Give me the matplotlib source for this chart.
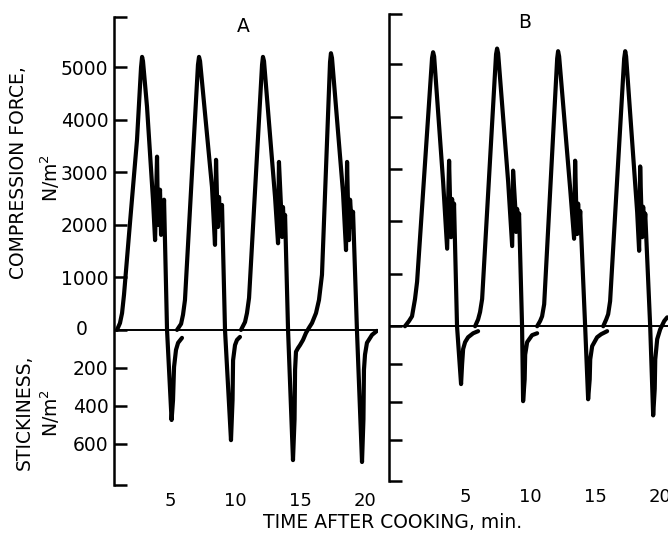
import numpy as np
import matplotlib.pyplot as plt
from matplotlib import transforms

nan = np.nan

# Panel A trace: time (min) and force (N/m2); negative values = stickiness.
# nan marks where the recorder pen was lifted between cycles.
a_time = [0.92, 1.15, 1.31, 1.46, 1.92, 2.46, 2.77, 2.85, 2.92, 3.23, 3.69, 3.85, 4.00,
          4.08, 4.23, 4.31, 4.38, 4.46, 4.54, 4.77, 5.12, 5.23, 5.31, 5.46, 5.62, 5.92, nan,
          5.54, 5.85, 6.00, 6.15, 7.15, 7.23, 7.31, 8.23, 8.46, 8.54, 8.62, 8.69, 8.77, 8.85,
          9.00, 9.23, 9.69, 9.81, 9.85, 10.00, 10.15, 10.38, nan,
          10.46, 10.77, 10.92, 11.08, 12.08, 12.15, 12.23, 13.08, 13.31, 13.38, 13.54, 13.62,
          13.69, 13.77, 13.85, 14.08, 14.46, 14.58, 14.62, 14.69, 14.85, 15.00, 15.23, 15.46,
          15.69, 15.92, 16.23, 16.46, 16.69, 17.31, 17.38, 17.46, 18.31, 18.54, 18.62, 18.69,
          18.77, 18.85, 19.00, 19.08, 19.38, 19.77, 19.88, 19.92, 20.00, 20.15, 20.54, 20.92]
a_force = [0, 130, 320, 670, 2040, 3620, 5000, 5200, 5120, 4250, 2480, 1710, 3300,
           2000, 2670, 1810, 2380, 1900, 2480, 0, -474, -370, -195, -105, -68, -42, nan,
           0, 115, 290, 570, 5050, 5200, 5120, 2720, 1620, 3240, 2480, 1960, 2530, 2100,
           2380, 0, -580, -370, -160, -80, -53, -37, nan,
           0, 150, 320, 610, 5050, 5200, 5120, 2530, 1650, 3200, 2340, 1770,
           2340, 1960, 2190, 0, -685, -470, -210, -115, -95, -80, -53, -16,
           40, 130, 320, 570, 1050, 5100, 5270, 5180, 2610, 1520, 3200, 2420,
           1710, 2480, 1960, 2250, 0, -695, -470, -210, -130, -68, -26, -5]

# Panel B trace
b_time = [0.38, 0.69, 0.92, 1.15, 1.31, 2.46, 2.54, 2.62, 3.31, 3.62, 3.77, 3.85, 3.92,
          4.00, 4.08, 4.15, 4.38, 4.69, 4.77, 4.85, 5.00, 5.23, 5.62, 6.00, nan,
          5.77, 6.00, 6.15, 6.31, 7.38, 7.46, 7.54, 8.31, 8.62, 8.69, 8.85, 8.92, 9.00,
          9.08, 9.15, 9.38, 9.46, 9.58, 9.62, 9.77, 10.15, 10.54, nan,
          10.54, 10.77, 10.92, 11.08, 12.08, 12.15, 12.23, 13.08, 13.38, 13.46, 13.54, 13.62,
          13.69, 13.77, 13.85, 14.23, 14.46, 14.58, 14.62, 14.77, 15.15, 15.46, 15.92, nan,
          15.62, 15.85, 16.00, 16.15, 17.23, 17.31, 17.38, 18.23, 18.38, 18.46, 18.54, 18.62,
          18.69, 18.77, 18.85, 19.23, 19.46, 19.58, 19.62, 19.77, 20.00, 20.31, 20.54]
b_force = [0, 100, 190, 520, 850, 5120, 5230, 5150, 2760, 1480, 3160, 2340, 1700,
           2430, 1900, 2340, 0, -305, -200, -120, -84, -58, -37, -26, nan,
           0, 130, 270, 520, 5190, 5300, 5210, 2760, 1530, 2970, 2300, 1800, 2240,
           1920, 2150, 0, -395, -280, -150, -84, -47, -37, nan,
           0, 100, 190, 420, 5110, 5250, 5150, 2620, 1670, 3160, 2340, 1760,
           2340, 1900, 2200, 0, -385, -280, -175, -105, -58, -42, -26, nan,
           0, 130, 230, 480, 5110, 5250, 5150, 2180, 1440, 3050, 2340, 1700,
           2280, 1860, 2150, 0, -470, -330, -175, -68, -16, 100, 170]

comp_ticks = [1000, 2000, 3000, 4000, 5000]
stick_ticks = [200, 400, 600]
time_ticks = [5, 10, 15, 20]

# stickiness is drawn on a taller scale than compression
STRETCH = 3.62


def fwd(y):
    y = np.asarray(y, dtype=float)
    return np.where(y < 0, y * STRETCH, y)


def inv(y):
    y = np.asarray(y, dtype=float)
    return np.where(y < 0, y / STRETCH, y)


fig = plt.figure(figsize=(6.68, 5.37), dpi=100)
W, H = 668, 537
ax_a = fig.add_axes([114 / W, 1 - 485 / H, 264 / W, 468 / H])
ax_b = fig.add_axes([389 / W, 1 - 481 / H, 279 / W, 467 / H])

ylo, yhi = -816, 5960
yticks = [ylo] + [-s for s in stick_ticks[::-1]] + [0] + comp_ticks + [yhi]

for ax, t, f, xlim, show in [(ax_a, a_time, a_force, (0.69, 21.0), True),
                             (ax_b, b_time, b_force, (-0.85, 20.6), False)]:
    ax.set_yscale('function', functions=(fwd, inv))
    ax.set_ylim(ylo, yhi)
    ax.set_xlim(*xlim)
    ax.plot(t, f, color='black', lw=3.0, solid_joinstyle='round', solid_capstyle='round')
    ax.axhline(0, color='black', lw=1.4)
    for s in ['top', 'right', 'bottom']:
        ax.spines[s].set_visible(False)
    ax.spines['left'].set_linewidth(1.8)
    ax.set_yticks(yticks)
    if show:
        labels = [''] + [str(s) for s in stick_ticks[::-1]] + [''] + [str(c) for c in comp_ticks] + ['']
    else:
        labels = [''] * len(yticks)
    ax.set_yticklabels(labels)
    ax.tick_params(axis='y', direction='in', length=9, width=1.8, pad=4, labelsize=13.5)
    ax.set_xticks(time_ticks)
    ax.tick_params(axis='x', length=0, pad=5, labelsize=13)
    ax.patch.set_visible(False)

trans = transforms.blended_transform_factory(ax_a.transAxes, ax_a.transData)
ax_a.text(-0.121, 0, '0', transform=trans, ha='center', va='center', fontsize=13.5)

fig.text(243 / W, 1 - 27 / H, 'A', ha='center', va='center', fontsize=13.5)
fig.text(525 / W, 1 - 22 / H, 'B', ha='center', va='center', fontsize=13.5)

fig.text(19 / W, 1 - 173 / H, 'COMPRESSION FORCE,', rotation=90, ha='center', va='center', fontsize=13.5)
fig.text(50 / W, 1 - 178 / H, 'N/m$^2$', rotation=90, ha='center', va='center', fontsize=13.5)
fig.text(24 / W, 1 - 412 / H, 'STICKINESS,', rotation=90, ha='center', va='center', fontsize=13.5)
fig.text(50 / W, 1 - 413 / H, 'N/m$^2$', rotation=90, ha='center', va='center', fontsize=13.5)

fig.text(393 / W, 1 - 522 / H, 'TIME AFTER COOKING, min.', ha='center', va='center', fontsize=13.5)

fig.savefig('out.png', dpi=100)
